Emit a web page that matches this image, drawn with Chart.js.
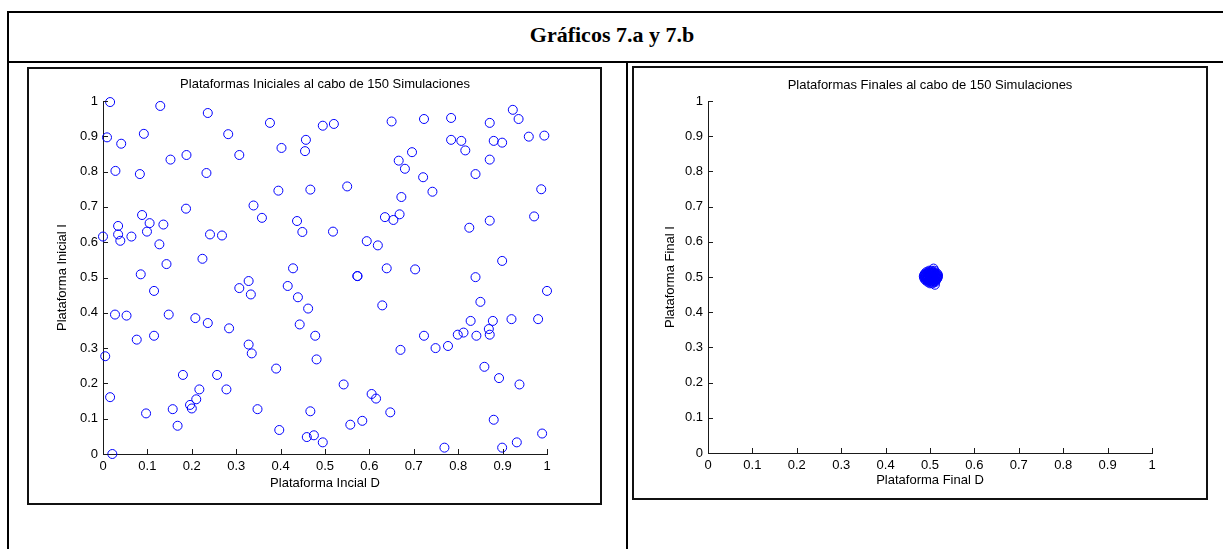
<!DOCTYPE html>
<html lang="es">
<head>
<meta charset="utf-8">
<title>Gráficos 7.a y 7.b</title>
<script src="https://cdn.jsdelivr.net/npm/chart.js@4.4.1/dist/chart.umd.min.js"></script>
<style>
  html, body { margin: 0; padding: 0; background: #fff; }
  body { width: 1223px; height: 549px; position: relative; overflow: hidden; }
  .line { position: absolute; background: #000; }
  .box { position: absolute; border: 2px solid #111; box-sizing: border-box; pointer-events: none; }
  canvas { position: absolute; }
  #pageTitle {
    position: absolute; left: 0; width: 1224px; top: 22px;
    text-align: center; font: bold 22px "Liberation Serif", "Times New Roman", serif; color: #000;
  }
</style>
</head>
<body>
  <div class="line" style="left:7px; top:11px; width:1216px; height:2px"></div>
  <div class="line" style="left:7px; top:11px; width:2px; height:538px"></div>
  <div class="line" style="left:7px; top:61px; width:1216px; height:2px"></div>
  <div class="line" style="left:626px; top:61px; width:2px; height:488px"></div>
  <div id="pageTitle">Gráficos 7.a y 7.b</div>

  <canvas id="chartInicial" width="575" height="438" style="left:27px; top:67px"></canvas>
  <div class="box" style="left:27px; top:67px; width:575px; height:438px"></div>

  <canvas id="chartFinal" width="576" height="434" style="left:632px; top:66px"></canvas>
  <div class="box" style="left:632px; top:66px; width:576px; height:434px"></div>

<script>
// Ticks shared by both axes of both plots
const tickValues = [0, 0.1, 0.2, 0.3, 0.4, 0.5, 0.6, 0.7, 0.8, 0.9, 1]
const tickLabels = ['0', '0.1', '0.2', '0.3', '0.4', '0.5', '0.6', '0.7', '0.8', '0.9', '1']

// Gráfico 7.a - plataformas iniciales (D, I)
const initialD = [
  0.016, 0.009, 0.041, 0.092, 0.129, 0.236, 0.028, 0.083, 0.152, 0.188,
  0.233, 0.282, 0.307, 0.376, 0.402, 0.457, 0.455, 0.495, 0.520, 0.395,
  0.467, 0.339, 0.358, 0.187, 0.088, 0.034, 0.034, 0.039, 0.000, 0.064,
  0.105, 0.099, 0.136, 0.127, 0.224, 0.241, 0.268, 0.437, 0.449, 0.518,
  0.650, 0.723, 0.784, 0.871, 0.923, 0.936, 0.959, 0.994, 0.784, 0.807,
  0.816, 0.880, 0.899, 0.871, 0.696, 0.666, 0.680, 0.839, 0.550, 0.721,
  0.742, 0.672, 0.987, 0.635, 0.654, 0.668, 0.825, 0.871, 0.971, 0.594,
  0.619, 0.899,
  0.143, 0.428, 0.085, 0.328, 0.307, 0.333, 0.416, 0.439, 0.462, 0.443,
  0.478, 0.481, 0.390, 0.328, 0.335, 0.284, 0.236, 0.208, 0.148, 0.115,
  0.115, 0.076, 0.027, 0.053, 0.005, 0.016, 0.021, 0.097, 0.157, 0.168,
  0.180, 0.196, 0.200, 0.210, 0.217, 0.257, 0.278, 0.348, 0.397, 0.467,
  0.459, 0.475, 0.495,
  0.573, 0.573, 0.639, 0.703, 0.839, 1.000, 0.629, 0.850, 0.828, 0.878,
  0.920, 0.980, 0.869, 0.871, 0.841, 0.812, 0.799, 0.777, 0.749, 0.723,
  0.670, 0.859, 0.892, 0.938, 0.542, 0.605, 0.615, 0.647, 0.584, 0.557,
  0.880, 0.989, 0.932, 0.899, 0.769
]
const initialI = [
  0.997, 0.897, 0.879, 0.907, 0.986, 0.966, 0.802, 0.793, 0.834, 0.847,
  0.796, 0.906, 0.847, 0.938, 0.867, 0.890, 0.858, 0.930, 0.935, 0.746,
  0.749, 0.704, 0.669, 0.695, 0.677, 0.646, 0.622, 0.604, 0.616, 0.616,
  0.654, 0.630, 0.650, 0.594, 0.553, 0.622, 0.619, 0.660, 0.629, 0.630,
  0.942, 0.949, 0.952, 0.938, 0.975, 0.949, 0.899, 0.902, 0.890, 0.887,
  0.860, 0.887, 0.882, 0.834, 0.855, 0.831, 0.808, 0.793, 0.758, 0.784,
  0.743, 0.728, 0.750, 0.671, 0.663, 0.679, 0.641, 0.661, 0.673, 0.603,
  0.591, 0.547,
  0.538, 0.526, 0.509, 0.490, 0.470, 0.452, 0.476, 0.444, 0.412, 0.367,
  0.335, 0.268, 0.242, 0.310, 0.285, 0.356, 0.371, 0.385, 0.395, 0.335,
  0.462, 0.324, 0.395, 0.392, 0.277, 0.161, 0.000, 0.115, 0.127, 0.080,
  0.224, 0.139, 0.129, 0.155, 0.183, 0.224, 0.183, 0.127, 0.068, 0.121,
  0.048, 0.053, 0.033,
  0.504, 0.504, 0.526, 0.523, 0.501, 0.462, 0.421, 0.431, 0.377, 0.377,
  0.382, 0.382, 0.354, 0.338, 0.335, 0.344, 0.338, 0.306, 0.300, 0.335,
  0.295, 0.247, 0.215, 0.197, 0.197, 0.170, 0.157, 0.118, 0.094, 0.083,
  0.097, 0.058, 0.033, 0.018, 0.018
]

// Gráfico 7.b - plataformas finales (D, I), all packed around 0.5
const finalD = [
  0.498, 0.504, 0.510, 0.508,
  0.492, 0.498, 0.504, 0.510,
  0.489, 0.494, 0.500, 0.506, 0.512, 0.516,
  0.487, 0.492, 0.498, 0.503, 0.508, 0.514, 0.518,
  0.486, 0.491, 0.496, 0.502, 0.507, 0.512, 0.518,
  0.487, 0.492, 0.497, 0.503, 0.508, 0.513, 0.517,
  0.488, 0.494, 0.499, 0.505, 0.510, 0.515,
  0.491, 0.497, 0.502, 0.508, 0.513,
  0.495, 0.501, 0.507, 0.512,
  0.500, 0.506, 0.511,
  0.496, 0.502, 0.508,
  0.490, 0.496, 0.502, 0.510,
  0.489, 0.495, 0.500, 0.506, 0.511, 0.516,
  0.489, 0.494, 0.500, 0.505, 0.510, 0.515,
  0.490, 0.495, 0.501, 0.506, 0.511, 0.516,
  0.493, 0.499, 0.505, 0.511,
  0.498, 0.504, 0.510
]
const finalI = [
  0.518, 0.518, 0.518, 0.524,
  0.514, 0.514, 0.514, 0.514,
  0.510, 0.510, 0.510, 0.510, 0.510, 0.510,
  0.506, 0.506, 0.506, 0.506, 0.506, 0.506, 0.506,
  0.502, 0.502, 0.502, 0.502, 0.502, 0.502, 0.502,
  0.498, 0.498, 0.498, 0.498, 0.498, 0.498, 0.498,
  0.494, 0.494, 0.494, 0.494, 0.494, 0.494,
  0.490, 0.490, 0.490, 0.490, 0.490,
  0.486, 0.486, 0.486, 0.486,
  0.482, 0.482, 0.478,
  0.512, 0.512, 0.512,
  0.508, 0.508, 0.508, 0.508,
  0.504, 0.504, 0.504, 0.504, 0.504, 0.504,
  0.500, 0.500, 0.500, 0.500, 0.500, 0.500,
  0.496, 0.496, 0.496, 0.496, 0.496, 0.496,
  0.492, 0.492, 0.492, 0.492,
  0.488, 0.488, 0.488
]

const axisColor = '#1a1a1a'
const markerColor = '#0000ff'
const fontFamily = '"Liberation Sans", Arial, Helvetica, sans-serif'

// MATLAB style: ticks point into the plot area
const inwardTicks = {
  id: 'inwardTicks',
  afterDraw(chart) {
    const { ctx, chartArea, scales } = chart
    ctx.save()
    ctx.strokeStyle = axisColor
    ctx.lineWidth = 1
    ctx.beginPath()
    scales.x.ticks.forEach(t => {
      const px = Math.round(scales.x.getPixelForValue(t.value)) + 0.5
      ctx.moveTo(px, chartArea.bottom)
      ctx.lineTo(px, chartArea.bottom - 5)
    })
    scales.y.ticks.forEach(t => {
      const py = Math.round(scales.y.getPixelForValue(t.value)) + 0.5
      ctx.moveTo(chartArea.left, py)
      ctx.lineTo(chartArea.left + 5, py)
    })
    ctx.stroke()
    ctx.restore()
  }
}

const makeAxis = (title, titlePad, size, horizontal) => ({
  type: 'linear',
  min: 0,
  max: 1,
  afterBuildTicks: s => { s.ticks = tickValues.map(v => ({ value: v })) },
  afterFit: s => {
    if (horizontal) s.height = size
    else s.width = size
  },
  grid: { display: false, drawTicks: false },
  border: { display: true, color: axisColor, width: 1 },
  ticks: {
    color: '#000',
    font: { family: fontFamily, size: 13 },
    padding: 5,
    autoSkip: false,
    maxRotation: 0,
    callback: (v, i) => tickLabels[i]
  },
  title: {
    display: true,
    text: title,
    color: '#000',
    font: { family: fontFamily, size: 13 },
    padding: horizontal ? { top: 0, bottom: titlePad } : { top: titlePad, bottom: 0 }
  }
})

const makeChart = (id, opts) => {
  const canvas = document.getElementById(id)
  return new Chart(canvas, {
    type: 'scatter',
    data: {
      datasets: [{
        data: opts.xs.map((x, i) => ({ x: x, y: opts.ys[i] })),
        pointStyle: 'circle',
        pointRadius: 4.5,
        pointHoverRadius: 4.5,
        pointBorderColor: markerColor,
        pointBackgroundColor: 'rgba(0, 0, 0, 0)',
        pointBorderWidth: 1,
        showLine: false,
        clip: false
      }]
    },
    options: {
      responsive: false,
      animation: false,
      devicePixelRatio: 1,
      layout: { padding: { left: 0, right: opts.padRight, top: 0, bottom: 0 } },
      plugins: {
        legend: { display: false },
        tooltip: { enabled: false },
        title: {
          display: true,
          fullSize: false,
          text: opts.title,
          color: '#000',
          font: { family: fontFamily, size: 13, weight: 'normal' },
          padding: { top: opts.titleTop, bottom: opts.titleBottom }
        }
      },
      scales: {
        x: makeAxis(opts.xTitle, opts.xTitlePad, opts.xHeight, true),
        y: makeAxis(opts.yTitle, opts.yTitlePad, opts.yWidth, false)
      }
    },
    plugins: [inwardTicks]
  })
}

makeChart('chartInicial', {
  xs: initialD,
  ys: initialI,
  title: 'Plataformas Iniciales al cabo de 150 Simulaciones',
  xTitle: 'Plataforma Incial D',
  yTitle: 'Plataforma Inicial I',
  padRight: 55,
  titleTop: 9.2,
  titleBottom: 9.2,
  xHeight: 51,
  yWidth: 76,
  xTitlePad: 14,
  yTitlePad: 28
})

makeChart('chartFinal', {
  xs: finalD,
  ys: finalI,
  title: 'Plataformas Finales al cabo de 150 Simulaciones',
  xTitle: 'Plataforma Final D',
  yTitle: 'Plataforma Final I',
  padRight: 56,
  titleTop: 11.2,
  titleBottom: 8.2,
  xHeight: 47,
  yWidth: 76,
  xTitlePad: 12,
  yTitlePad: 31
})
</script>
</body>
</html>
